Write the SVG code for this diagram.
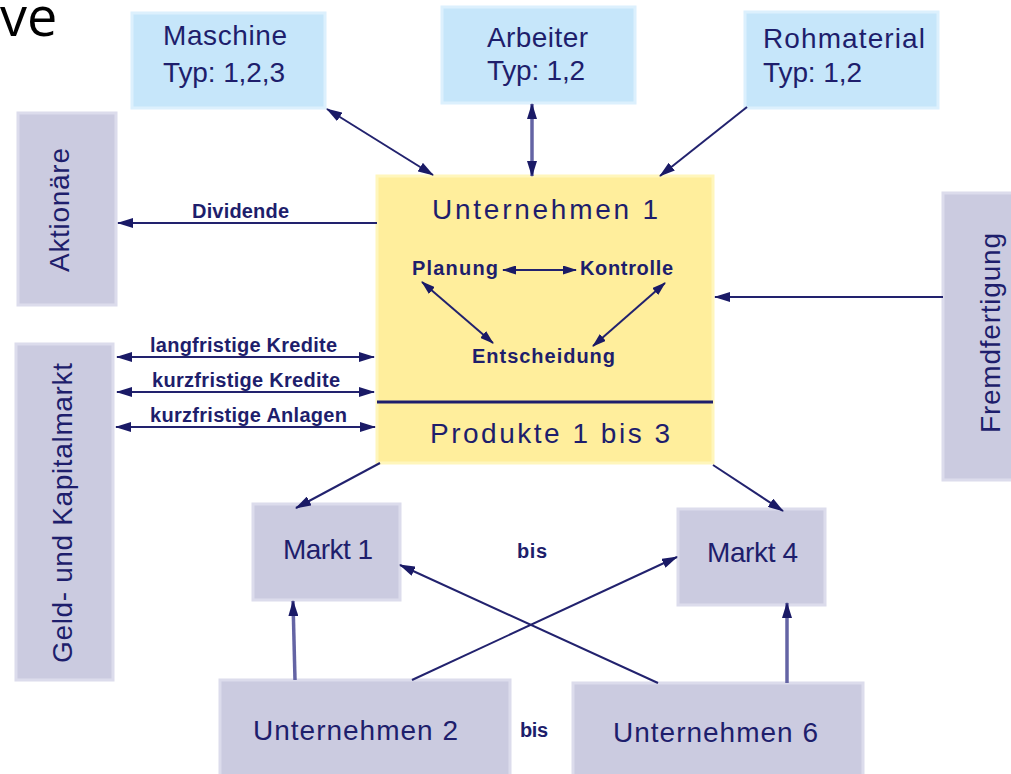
<svg xmlns="http://www.w3.org/2000/svg" width="1011" height="774" viewBox="0 0 1011 774">
<defs>
<style>
.blue{fill:#c6e6fa;stroke:#dcf0fd;stroke-width:3}
.grey{fill:#cbcbe0;stroke:#dcdcec;stroke-width:3}
.yellow{fill:#ffee9c;stroke:#fff6bc;stroke-width:3}
.t{font-family:"Liberation Sans",Arial,sans-serif;font-size:28px;fill:#1e1e6c}
.b{font-family:"Liberation Sans",Arial,sans-serif;font-size:20px;font-weight:bold;fill:#1e1e6c}
.ln{stroke:#22226e;stroke-width:2;fill:none}
.thick{stroke:#6464a4;stroke-width:3.5;fill:none}
</style>
<marker id="ah" viewBox="0 0 16 10" refX="15" refY="5" markerWidth="16" markerHeight="10" markerUnits="userSpaceOnUse" orient="auto-start-reverse">
<path d="M0,0 L16,5 L0,10 z" fill="#1a1a66"/>
</marker>
<marker id="ahs" viewBox="0 0 14 9" refX="13" refY="4.5" markerWidth="14" markerHeight="9" markerUnits="userSpaceOnUse" orient="auto-start-reverse">
<path d="M0,0 L14,4.5 L0,9 z" fill="#1a1a66"/>
</marker>
</defs>
<rect width="1011" height="774" fill="#ffffff"/>
<text x="0" y="36" font-family="'Open Sans','Liberation Sans',sans-serif" font-size="54" fill="#000000">ve</text>

<g id="maschine">
<rect class="blue" x="132" y="13" width="193" height="95"/>
<text class="t" x="163" y="45" textLength="124">Maschine</text>
<text class="t" x="163" y="82" textLength="122">Typ: 1,2,3</text>
</g>
<g id="arbeiter">
<rect class="blue" x="442" y="7" width="193" height="96"/>
<text class="t" x="487" y="47" textLength="101">Arbeiter</text>
<text class="t" x="487" y="80" textLength="98">Typ: 1,2</text>
</g>
<g id="rohmaterial">
<rect class="blue" x="745" y="12" width="193" height="96"/>
<text class="t" x="763" y="48" textLength="162">Rohmaterial</text>
<text class="t" x="763" y="82" textLength="99">Typ: 1,2</text>
</g>
<g id="aktionaere">
<rect class="grey" x="18" y="113" width="98" height="192"/>
<text class="t" transform="translate(69,210) rotate(-90)" text-anchor="middle" textLength="124">Aktionäre</text>
</g>
<g id="geldmarkt">
<rect class="grey" x="16" y="344" width="97" height="336"/>
<text class="t" transform="translate(72,513) rotate(-90)" text-anchor="middle" font-size="29" textLength="300">Geld- und Kapitalmarkt</text>
</g>
<g id="fremdfertigung">
<rect class="grey" x="943" y="193" width="72" height="287"/>
<text class="t" transform="translate(1000,333) rotate(-90)" text-anchor="middle" font-size="29" textLength="200">Fremdfertigung</text>
</g>
<g id="unternehmen1">
<rect class="yellow" x="377" y="176" width="336" height="287"/>
<text class="t" x="545" y="219" text-anchor="middle" font-size="33" textLength="226">Unternehmen 1</text>
<line x1="377" y1="402" x2="713" y2="402" stroke="#1e1e6c" stroke-width="3"/>
<text class="t" x="550" y="443" text-anchor="middle" font-size="33" textLength="240">Produkte 1 bis 3</text>
<text class="b" x="412" y="275" font-size="21" textLength="86">Planung</text>
<text class="b" x="580" y="275" font-size="21" textLength="93">Kontrolle</text>
<text class="b" x="472" y="363" font-size="21" textLength="143">Entscheidung</text>
<line class="ln" x1="503" y1="270" x2="576" y2="270" marker-start="url(#ahs)" marker-end="url(#ahs)"/>
<line class="ln" x1="422" y1="282" x2="493" y2="343" marker-start="url(#ahs)" marker-end="url(#ahs)"/>
<line class="ln" x1="665" y1="283" x2="593" y2="346" marker-start="url(#ahs)" marker-end="url(#ahs)"/>
</g>
<g id="markt1">
<rect class="grey" x="253" y="504" width="147" height="96"/>
<text class="t" x="283" y="559" textLength="90">Markt 1</text>
</g>
<g id="markt4">
<rect class="grey" x="678" y="509" width="147" height="96"/>
<text class="t" x="707" y="562" textLength="91">Markt 4</text>
</g>
<g id="unternehmen2">
<rect class="grey" x="220" y="680" width="290" height="100"/>
<text class="t" x="253" y="740" font-size="30" textLength="205">Unternehmen 2</text>
</g>
<g id="unternehmen6">
<rect class="grey" x="573" y="683" width="290" height="100"/>
<text class="t" x="613" y="742" font-size="30" textLength="205">Unternehmen 6</text>
</g>
<g id="labels">
<text class="b" x="517" y="558" textLength="30">bis</text>
<text class="b" x="520" y="737" textLength="28">bis</text>
<text class="b" x="192" y="218" textLength="97">Dividende</text>
<text class="b" x="150" y="352" textLength="187">langfristige Kredite</text>
<text class="b" x="152" y="387" textLength="188">kurzfristige Kredite</text>
<text class="b" x="150" y="422" textLength="197">kurzfristige Anlagen</text>
</g>
<g id="connectors">
<line class="ln" x1="327" y1="109" x2="433" y2="175" marker-start="url(#ah)" marker-end="url(#ah)"/>
<line class="thick" x1="532" y1="104" x2="532" y2="176" marker-start="url(#ah)" marker-end="url(#ah)"/>
<line class="ln" x1="747" y1="107" x2="660" y2="176" marker-end="url(#ah)"/>
<line class="ln" x1="377" y1="223" x2="118" y2="223" marker-end="url(#ah)"/>
<line class="ln" x1="117" y1="357" x2="374" y2="357" marker-start="url(#ah)" marker-end="url(#ah)"/>
<line class="ln" x1="117" y1="392" x2="374" y2="392" marker-start="url(#ah)" marker-end="url(#ah)"/>
<line class="ln" x1="116" y1="427" x2="375" y2="427" marker-start="url(#ah)" marker-end="url(#ah)"/>
<line class="ln" x1="943" y1="297" x2="715" y2="297" marker-end="url(#ah)"/>
<line class="ln" x1="380" y1="463" x2="296" y2="508" marker-end="url(#ah)"/>
<line class="ln" x1="713" y1="465" x2="783" y2="511" marker-end="url(#ah)"/>
<line class="thick" x1="295" y1="680" x2="293" y2="601" marker-end="url(#ah)"/>
<line class="thick" x1="787" y1="683" x2="787" y2="603" marker-end="url(#ah)"/>
<line class="ln" x1="412" y1="680" x2="677" y2="557" marker-end="url(#ah)"/>
<line class="ln" x1="658" y1="683" x2="400" y2="565" marker-end="url(#ah)"/>
</g>
</svg>
